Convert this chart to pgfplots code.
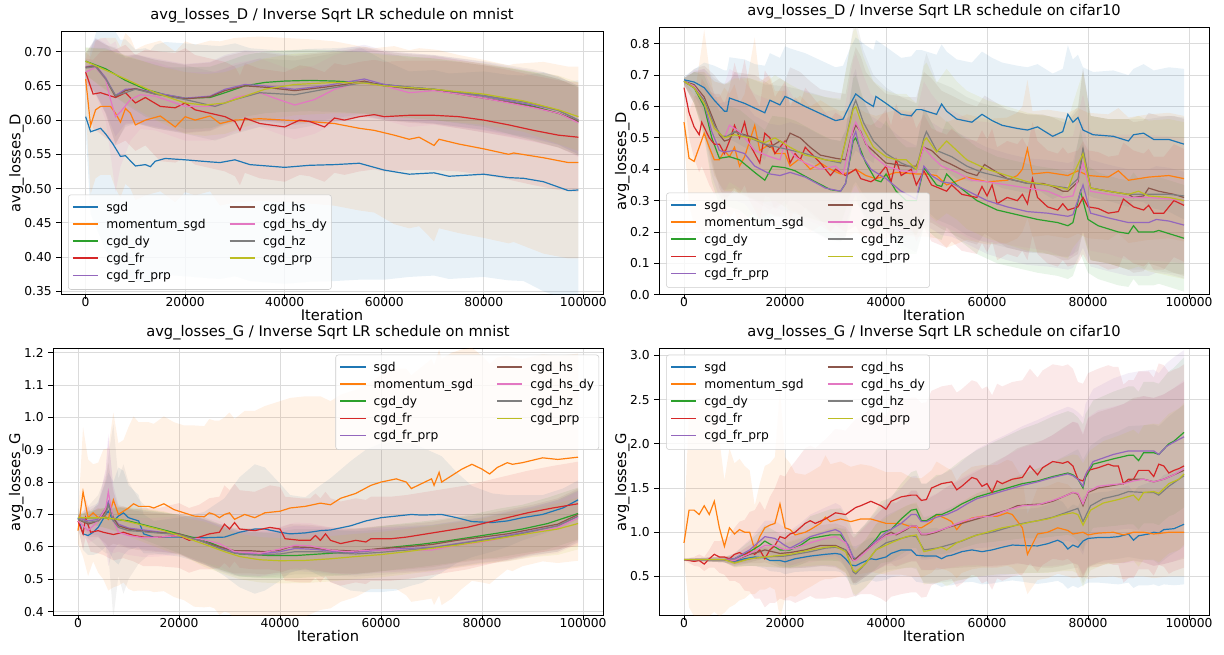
\documentclass[border=0pt]{standalone}
\usepackage{fontspec}
\setmainfont{DejaVu Sans}
\usepackage{pgfplots}
\usepackage{pgfplotstable}
\pgfplotsset{compat=1.18}
\usepgfplotslibrary{fillbetween}

\definecolor{csgd}{HTML}{1F77B4}
\definecolor{cmom}{HTML}{FF7F0E}
\definecolor{cdy}{HTML}{2CA02C}
\definecolor{cfr}{HTML}{D62728}
\definecolor{cfrprp}{HTML}{9467BD}
\definecolor{chs}{HTML}{8C564B}
\definecolor{chsdy}{HTML}{E377C2}
\definecolor{chz}{HTML}{7F7F7F}
\definecolor{cprp}{HTML}{BCBD22}

% columns: iteration, mean, std  (A = mnist D, B = cifar10 D, C = mnist G, D = cifar10 G)
% ---------- A: avg_losses_D, mnist ----------
\pgfplotstableread{
x m s
0 0.605 0.02
1000 0.583 0.12
3000 0.588 0.16
4000 0.580 0.17
5500 0.565 0.17
7000 0.547 0.17
8000 0.548 0.17
10000 0.533 0.17
12000 0.535 0.17
13000 0.532 0.17
14000 0.540 0.17
16000 0.544 0.17
20000 0.542 0.17
25000 0.539 0.17
27000 0.538 0.17
30000 0.542 0.17
33000 0.535 0.17
40000 0.531 0.17
45000 0.534 0.17
50000 0.535 0.17
55000 0.537 0.17
60000 0.527 0.16
65000 0.521 0.15
70000 0.523 0.15
73000 0.518 0.15
80000 0.521 0.15
85000 0.516 0.15
88000 0.515 0.15
92000 0.510 0.16
97000 0.497 0.16
99000 0.498 0.16
}\tAa
\pgfplotstableread{
x m s
0 0.660 0.04
1000 0.592 0.10
2000 0.615 0.10
3000 0.620 0.10
5000 0.620 0.10
6000 0.610 0.11
7000 0.597 0.11
8000 0.617 0.11
9000 0.610 0.11
10000 0.593 0.11
12000 0.600 0.11
15000 0.606 0.11
18000 0.590 0.11
20000 0.605 0.11
22000 0.600 0.11
25000 0.606 0.11
27000 0.595 0.12
30000 0.600 0.12
35000 0.602 0.12
40000 0.600 0.12
45000 0.598 0.12
50000 0.595 0.12
55000 0.588 0.12
58000 0.585 0.12
62000 0.578 0.13
65000 0.572 0.13
67000 0.575 0.13
70000 0.563 0.14
71000 0.572 0.13
75000 0.565 0.13
80000 0.558 0.13
85000 0.550 0.13
86000 0.552 0.13
92000 0.545 0.14
97000 0.538 0.14
99000 0.538 0.14
}\tAb
\pgfplotstableread{
x m s
0 0.686 0.02
4000 0.675 0.03
8000 0.658 0.035
12000 0.645 0.04
16000 0.637 0.04
20000 0.632 0.045
25000 0.633 0.045
28000 0.640 0.045
32000 0.650 0.045
36000 0.655 0.045
40000 0.657 0.045
45000 0.658 0.045
50000 0.657 0.045
55000 0.655 0.045
60000 0.652 0.045
65000 0.648 0.045
70000 0.645 0.045
75000 0.640 0.045
80000 0.635 0.045
85000 0.628 0.048
90000 0.620 0.05
95000 0.610 0.05
99000 0.598 0.05
}\tAc
\pgfplotstableread{
x m s
0 0.670 0.02
1500 0.638 0.05
3000 0.640 0.06
6000 0.633 0.07
8000 0.640 0.07
10000 0.625 0.07
12000 0.633 0.07
15000 0.620 0.08
18000 0.618 0.08
20000 0.625 0.08
22000 0.615 0.08
25000 0.610 0.08
28000 0.605 0.08
30000 0.598 0.08
31000 0.585 0.08
32000 0.603 0.08
35000 0.595 0.08
40000 0.590 0.08
43000 0.600 0.08
45000 0.598 0.08
48000 0.590 0.08
50000 0.603 0.08
52000 0.600 0.08
55000 0.605 0.08
58000 0.608 0.08
60000 0.605 0.08
65000 0.607 0.08
70000 0.607 0.08
75000 0.605 0.08
80000 0.600 0.08
85000 0.593 0.08
90000 0.585 0.08
95000 0.578 0.08
99000 0.575 0.08
}\tAd
\pgfplotstableread{
x m s
0 0.678 0.02
2000 0.680 0.04
4000 0.662 0.05
6000 0.636 0.06
8000 0.645 0.05
10000 0.646 0.05
14000 0.640 0.05
20000 0.632 0.05
25000 0.635 0.05
28000 0.645 0.05
32000 0.652 0.05
36000 0.650 0.05
42000 0.645 0.05
48000 0.650 0.05
52000 0.655 0.05
56000 0.660 0.05
60000 0.652 0.05
65000 0.648 0.05
70000 0.645 0.05
75000 0.640 0.05
80000 0.635 0.05
85000 0.628 0.05
90000 0.622 0.05
95000 0.614 0.05
99000 0.600 0.05
}\tAe
\pgfplotstableread{
x m s
0 0.677 0.02
2000 0.679 0.04
4000 0.660 0.05
6000 0.634 0.07
8000 0.643 0.05
10000 0.646 0.05
14000 0.638 0.05
20000 0.631 0.05
25000 0.634 0.05
28000 0.643 0.05
32000 0.650 0.05
36000 0.648 0.05
42000 0.643 0.05
48000 0.648 0.05
52000 0.652 0.05
56000 0.657 0.05
60000 0.650 0.05
65000 0.646 0.05
70000 0.644 0.05
75000 0.638 0.05
80000 0.632 0.05
85000 0.626 0.05
90000 0.619 0.05
95000 0.610 0.05
99000 0.598 0.05
}\tAf
\pgfplotstableread{
x m s
0 0.670 0.02
2000 0.677 0.04
4000 0.660 0.06
5000 0.630 0.08
6000 0.605 0.11
7000 0.612 0.08
9000 0.630 0.06
11000 0.637 0.05
14000 0.635 0.05
18000 0.625 0.05
20000 0.620 0.05
25000 0.620 0.05
28000 0.625 0.05
30000 0.633 0.05
35000 0.640 0.05
38000 0.632 0.05
42000 0.622 0.05
46000 0.630 0.05
50000 0.645 0.05
55000 0.655 0.05
60000 0.650 0.05
65000 0.640 0.05
70000 0.643 0.05
75000 0.638 0.05
80000 0.632 0.05
85000 0.625 0.05
90000 0.618 0.05
95000 0.610 0.05
99000 0.596 0.05
}\tAg
\pgfplotstableread{
x m s
0 0.676 0.02
2000 0.678 0.04
4000 0.660 0.05
6000 0.636 0.07
8000 0.640 0.05
10000 0.645 0.05
14000 0.638 0.05
20000 0.630 0.05
26000 0.620 0.05
30000 0.630 0.05
35000 0.640 0.05
42000 0.637 0.05
48000 0.645 0.05
52000 0.650 0.05
56000 0.655 0.05
60000 0.650 0.05
70000 0.645 0.05
80000 0.636 0.05
90000 0.624 0.05
95000 0.614 0.05
99000 0.600 0.05
}\tAh
\pgfplotstableread{
x m s
0 0.686 0.02
4000 0.673 0.03
8000 0.660 0.035
14000 0.640 0.04
20000 0.625 0.045
24000 0.622 0.045
28000 0.625 0.045
32000 0.635 0.045
36000 0.645 0.045
42000 0.652 0.045
50000 0.655 0.045
56000 0.654 0.045
60000 0.650 0.045
70000 0.645 0.045
80000 0.638 0.045
88000 0.628 0.045
95000 0.615 0.05
99000 0.605 0.05
}\tAi

% ---------- B: avg_losses_D, cifar10 ----------
\pgfplotstableread{
x m s
0 0.685 0.01
2000 0.678 0.04
4000 0.660 0.08
6000 0.620 0.11
8000 0.585 0.13
8500 0.585 0.13
9000 0.627 0.13
12000 0.610 0.14
14000 0.595 0.14
16000 0.580 0.15
17000 0.620 0.15
19000 0.605 0.15
20000 0.632 0.16
21000 0.625 0.16
24000 0.600 0.17
28000 0.570 0.17
30000 0.555 0.17
31500 0.560 0.17
33000 0.610 0.18
34000 0.640 0.18
36000 0.615 0.18
37500 0.600 0.18
38000 0.632 0.18
40000 0.610 0.18
43000 0.575 0.18
45000 0.570 0.19
46000 0.590 0.19
47000 0.590 0.19
49000 0.580 0.19
50000 0.575 0.19
51000 0.608 0.19
52000 0.585 0.19
54000 0.560 0.19
57000 0.550 0.19
59000 0.575 0.20
61000 0.555 0.20
63000 0.540 0.20
66000 0.530 0.20
68000 0.525 0.20
70000 0.535 0.20
73000 0.505 0.20
75000 0.520 0.20
76000 0.575 0.22
77000 0.550 0.20
78000 0.565 0.20
79000 0.525 0.20
81000 0.510 0.20
85000 0.505 0.21
88000 0.490 0.21
89000 0.510 0.21
91000 0.515 0.22
93000 0.495 0.22
96000 0.495 0.23
99000 0.480 0.24
}\tBa
\pgfplotstableread{
x m s
0 0.550 0.05
1000 0.435 0.15
2000 0.425 0.20
4000 0.515 0.33
5000 0.470 0.25
6000 0.430 0.20
7000 0.430 0.20
8000 0.460 0.20
9000 0.440 0.20
10000 0.470 0.20
11000 0.410 0.20
12000 0.440 0.20
14000 0.540 0.28
15000 0.460 0.22
17000 0.480 0.22
18000 0.450 0.20
20000 0.450 0.20
21000 0.410 0.20
23000 0.435 0.20
25000 0.400 0.20
27000 0.420 0.20
29000 0.400 0.20
31000 0.385 0.20
33000 0.390 0.20
34000 0.400 0.20
36000 0.380 0.20
38000 0.370 0.20
40000 0.380 0.20
42000 0.390 0.20
46000 0.385 0.20
48000 0.385 0.20
50000 0.380 0.20
52000 0.350 0.20
56000 0.375 0.20
60000 0.360 0.20
64000 0.365 0.20
66000 0.380 0.20
67000 0.400 0.20
68000 0.465 0.22
69000 0.385 0.20
72000 0.390 0.20
76000 0.380 0.20
78000 0.395 0.20
80000 0.380 0.20
84000 0.375 0.20
86000 0.395 0.20
88000 0.365 0.20
92000 0.375 0.20
96000 0.380 0.20
99000 0.370 0.20
}\tBb
\pgfplotstableread{
x m s
0 0.680 0.01
2000 0.660 0.05
4000 0.600 0.10
5500 0.500 0.14
7000 0.435 0.15
9000 0.440 0.16
11000 0.430 0.16
14000 0.390 0.16
16000 0.365 0.16
17500 0.410 0.16
20000 0.405 0.16
22000 0.395 0.16
26000 0.360 0.16
29000 0.335 0.16
31000 0.330 0.16
32000 0.355 0.17
33500 0.490 0.20
34000 0.500 0.20
36000 0.420 0.18
38000 0.365 0.17
39000 0.360 0.17
40000 0.385 0.17
42000 0.330 0.17
44000 0.300 0.17
46000 0.300 0.17
47500 0.405 0.19
50000 0.350 0.17
51000 0.345 0.17
52000 0.385 0.17
54000 0.350 0.17
58000 0.300 0.17
62000 0.270 0.17
66000 0.255 0.17
70000 0.240 0.17
74000 0.230 0.17
76000 0.220 0.17
77000 0.230 0.17
78500 0.330 0.20
80000 0.240 0.17
82000 0.220 0.17
86000 0.200 0.17
88000 0.195 0.17
89000 0.220 0.17
90000 0.200 0.17
93000 0.200 0.17
94000 0.205 0.17
96000 0.195 0.17
99000 0.180 0.17
}\tBc
\pgfplotstableread{
x m s
0 0.660 0.02
1000 0.580 0.08
2000 0.535 0.10
3000 0.510 0.12
3500 0.550 0.14
5000 0.500 0.15
6000 0.480 0.16
7000 0.480 0.16
8000 0.450 0.16
9000 0.490 0.17
10000 0.540 0.20
11000 0.500 0.18
12000 0.550 0.20
13000 0.480 0.18
14000 0.450 0.18
15000 0.420 0.18
16000 0.515 0.20
17000 0.500 0.19
18000 0.450 0.18
20000 0.490 0.19
21000 0.420 0.18
22000 0.450 0.18
23000 0.430 0.18
24000 0.470 0.19
27000 0.420 0.18
29000 0.380 0.18
30000 0.400 0.18
32000 0.380 0.18
33000 0.390 0.18
34000 0.400 0.18
35000 0.370 0.18
37000 0.360 0.18
38000 0.370 0.18
40000 0.410 0.18
41000 0.360 0.18
42000 0.430 0.18
43000 0.380 0.18
45000 0.400 0.18
46000 0.350 0.18
47500 0.395 0.18
49000 0.350 0.18
52000 0.330 0.18
53000 0.350 0.18
55000 0.320 0.18
58000 0.310 0.18
59000 0.345 0.18
60000 0.315 0.18
61000 0.350 0.18
62000 0.290 0.18
64000 0.310 0.18
66000 0.300 0.18
67000 0.320 0.18
68000 0.290 0.18
69000 0.370 0.18
70000 0.310 0.18
72000 0.280 0.18
74000 0.270 0.18
75000 0.290 0.18
76000 0.270 0.18
78000 0.280 0.18
79000 0.310 0.18
80000 0.280 0.18
82000 0.275 0.18
84000 0.260 0.18
86000 0.265 0.18
87000 0.305 0.18
89000 0.280 0.18
91000 0.270 0.18
92000 0.285 0.18
93000 0.260 0.18
95000 0.260 0.18
97000 0.300 0.18
99000 0.285 0.18
}\tBd
\pgfplotstableread{
x m s
0 0.680 0.01
2000 0.660 0.05
4000 0.610 0.10
5500 0.520 0.14
7000 0.460 0.15
8000 0.455 0.16
10000 0.460 0.16
12000 0.450 0.16
14000 0.410 0.16
17000 0.385 0.16
19000 0.380 0.16
21000 0.390 0.16
24000 0.375 0.16
28000 0.340 0.16
31000 0.330 0.16
32000 0.355 0.17
33500 0.500 0.20
34000 0.520 0.20
35000 0.450 0.19
37000 0.400 0.17
40000 0.370 0.17
43000 0.330 0.17
46000 0.305 0.17
47500 0.410 0.19
49000 0.380 0.17
51000 0.360 0.17
53000 0.355 0.17
55000 0.340 0.17
60000 0.300 0.17
64000 0.280 0.17
68000 0.265 0.17
72000 0.260 0.17
76000 0.250 0.17
77000 0.255 0.17
79000 0.350 0.20
80500 0.260 0.17
84000 0.245 0.17
88000 0.230 0.17
92000 0.230 0.17
93500 0.240 0.17
96000 0.235 0.17
99000 0.222 0.17
}\tBe
\pgfplotstableread{
x m s
0 0.680 0.01
2000 0.670 0.05
4000 0.630 0.10
6000 0.550 0.15
7000 0.510 0.17
8000 0.490 0.18
9000 0.495 0.18
10000 0.520 0.19
14000 0.500 0.20
17000 0.470 0.20
19000 0.490 0.20
20000 0.480 0.20
21000 0.515 0.21
23000 0.500 0.21
25000 0.470 0.21
27000 0.445 0.21
30000 0.435 0.21
32000 0.430 0.21
33000 0.500 0.23
34000 0.540 0.25
35000 0.520 0.24
36000 0.480 0.23
38000 0.450 0.22
40000 0.420 0.22
42000 0.415 0.22
44000 0.410 0.22
46000 0.410 0.22
47500 0.470 0.24
49000 0.460 0.23
51000 0.430 0.22
53000 0.415 0.22
56000 0.390 0.22
58000 0.380 0.22
59500 0.415 0.22
61000 0.400 0.22
64000 0.370 0.22
68000 0.355 0.22
71000 0.355 0.22
73000 0.345 0.22
75000 0.330 0.22
76000 0.330 0.22
78000 0.360 0.23
79000 0.460 0.26
80500 0.340 0.23
84000 0.330 0.23
88000 0.320 0.24
89000 0.310 0.24
91000 0.315 0.24
92000 0.340 0.24
94000 0.330 0.24
97000 0.320 0.25
99000 0.310 0.25
}\tBf
\pgfplotstableread{
x m s
0 0.680 0.01
2000 0.665 0.05
4000 0.620 0.10
6000 0.530 0.15
8000 0.500 0.17
9000 0.540 0.18
11000 0.520 0.18
14000 0.460 0.18
17000 0.440 0.18
19000 0.430 0.18
20000 0.485 0.19
22000 0.440 0.18
24000 0.420 0.18
27000 0.400 0.18
30000 0.410 0.18
31500 0.385 0.18
33500 0.530 0.22
34000 0.550 0.22
35500 0.500 0.20
37000 0.450 0.19
40000 0.410 0.19
43000 0.395 0.19
46000 0.390 0.19
47500 0.470 0.21
49000 0.440 0.20
51000 0.410 0.19
54000 0.390 0.19
57000 0.365 0.19
60000 0.360 0.19
64000 0.350 0.19
68000 0.340 0.19
70000 0.335 0.19
72000 0.330 0.19
75000 0.310 0.19
77000 0.315 0.19
79000 0.420 0.22
80500 0.330 0.19
84000 0.320 0.19
88000 0.310 0.20
92000 0.310 0.20
96000 0.305 0.20
99000 0.300 0.20
}\tBg
\pgfplotstableread{
x m s
0 0.680 0.01
2000 0.660 0.05
4000 0.620 0.10
6000 0.540 0.15
7500 0.505 0.17
8500 0.505 0.17
10000 0.520 0.18
13000 0.500 0.19
16000 0.480 0.19
20000 0.465 0.20
24000 0.450 0.20
28000 0.430 0.20
31000 0.420 0.20
33500 0.600 0.25
34000 0.620 0.26
35500 0.550 0.23
37500 0.490 0.21
40000 0.450 0.21
43000 0.420 0.21
46000 0.400 0.21
47500 0.500 0.24
48000 0.520 0.25
50000 0.460 0.22
53000 0.440 0.22
56000 0.410 0.22
59000 0.390 0.22
64000 0.370 0.22
68000 0.355 0.22
72000 0.350 0.22
76000 0.340 0.22
78000 0.370 0.23
79000 0.465 0.26
80500 0.340 0.23
84000 0.330 0.23
88000 0.320 0.24
92000 0.320 0.24
96000 0.320 0.25
99000 0.315 0.25
}\tBh
\pgfplotstableread{
x m s
0 0.680 0.01
2000 0.660 0.05
4000 0.610 0.10
6000 0.530 0.15
8000 0.500 0.17
10000 0.510 0.18
13000 0.500 0.19
16000 0.485 0.19
18000 0.500 0.20
21000 0.470 0.20
24000 0.445 0.20
28000 0.430 0.20
31000 0.425 0.20
33500 0.590 0.25
34000 0.600 0.25
35500 0.530 0.23
37500 0.470 0.21
40000 0.440 0.21
42000 0.430 0.21
44000 0.430 0.21
46000 0.400 0.21
47500 0.490 0.24
48000 0.500 0.24
50000 0.455 0.22
52000 0.490 0.23
54000 0.460 0.22
56000 0.430 0.22
60000 0.400 0.22
64000 0.380 0.22
68000 0.360 0.22
72000 0.350 0.22
75000 0.340 0.22
76000 0.335 0.22
77000 0.380 0.23
79000 0.450 0.26
80500 0.340 0.23
84000 0.330 0.23
88000 0.320 0.24
90000 0.330 0.24
92000 0.315 0.24
96000 0.310 0.25
99000 0.300 0.25
}\tBi

% ---------- C: avg_losses_G, mnist ----------
\pgfplotstableread{
x m s
0 0.690 0.03
1000 0.640 0.05
2000 0.635 0.06
3000 0.645 0.07
4000 0.660 0.08
5500 0.700 0.10
6000 0.710 0.12
7000 0.680 0.12
8000 0.695 0.15
9000 0.705 0.13
10000 0.690 0.10
12000 0.680 0.08
13000 0.640 0.06
15000 0.630 0.05
20000 0.630 0.06
25000 0.628 0.08
29000 0.630 0.12
32000 0.645 0.17
35000 0.655 0.20
37000 0.655 0.19
40000 0.645 0.15
42000 0.640 0.12
45000 0.643 0.11
48000 0.650 0.14
50000 0.652 0.16
54000 0.665 0.20
57000 0.680 0.22
60000 0.690 0.23
63000 0.695 0.23
66000 0.700 0.22
68000 0.698 0.21
72000 0.700 0.18
75000 0.690 0.14
78000 0.678 0.11
82000 0.675 0.09
85000 0.680 0.08
88000 0.690 0.07
92000 0.700 0.06
96000 0.720 0.06
99000 0.745 0.06
}\tCa
\pgfplotstableread{
x m s
0 0.650 0.04
1000 0.770 0.20
2000 0.690 0.18
3000 0.705 0.15
4000 0.690 0.17
5000 0.700 0.20
6000 0.685 0.22
7000 0.745 0.27
8000 0.700 0.22
9000 0.710 0.22
10000 0.720 0.25
11000 0.733 0.27
12000 0.725 0.26
14000 0.725 0.26
15000 0.720 0.26
17000 0.733 0.27
19000 0.715 0.27
21000 0.705 0.27
23000 0.695 0.28
25000 0.693 0.28
26000 0.705 0.29
27000 0.700 0.29
28000 0.690 0.30
29000 0.700 0.30
30000 0.705 0.31
31000 0.685 0.31
33000 0.700 0.32
35000 0.690 0.33
37000 0.705 0.33
40000 0.710 0.34
42000 0.720 0.34
45000 0.725 0.34
48000 0.735 0.33
50000 0.730 0.32
52000 0.750 0.32
55000 0.765 0.32
58000 0.790 0.32
60000 0.800 0.33
63000 0.810 0.34
65000 0.800 0.35
66000 0.780 0.35
68000 0.795 0.36
70000 0.810 0.37
70500 0.790 0.37
71500 0.830 0.38
72000 0.800 0.38
74000 0.820 0.38
76000 0.840 0.37
78000 0.855 0.36
80000 0.840 0.35
81500 0.825 0.34
83000 0.845 0.34
85000 0.860 0.33
86000 0.855 0.33
88000 0.860 0.32
92000 0.875 0.32
95000 0.870 0.32
99000 0.877 0.32
}\tCb
\pgfplotstableread{
x m s
0 0.690 0.01
5000 0.690 0.03
10000 0.680 0.04
15000 0.660 0.05
20000 0.640 0.06
25000 0.620 0.07
29000 0.595 0.07
32000 0.578 0.07
38000 0.573 0.07
43000 0.573 0.07
48000 0.578 0.07
53000 0.583 0.07
58000 0.590 0.07
63000 0.600 0.07
68000 0.608 0.07
73000 0.618 0.07
78000 0.630 0.07
83000 0.642 0.075
88000 0.655 0.075
93000 0.672 0.08
99000 0.703 0.08
}\tCc
\pgfplotstableread{
x m s
0 0.680 0.02
1000 0.640 0.05
1500 0.690 0.06
2500 0.645 0.06
4000 0.650 0.07
5000 0.645 0.07
7000 0.638 0.08
9000 0.645 0.08
11000 0.635 0.08
13000 0.630 0.09
16000 0.630 0.09
20000 0.635 0.10
22000 0.620 0.10
24000 0.630 0.10
26000 0.640 0.11
28000 0.645 0.11
29000 0.670 0.12
30000 0.655 0.12
31000 0.675 0.12
32000 0.655 0.12
35000 0.650 0.12
38000 0.660 0.13
40000 0.655 0.13
41000 0.625 0.13
44000 0.620 0.13
46000 0.620 0.13
47000 0.635 0.13
48000 0.620 0.13
49000 0.640 0.13
50000 0.620 0.13
52000 0.610 0.13
55000 0.620 0.13
57000 0.615 0.13
58000 0.625 0.13
62000 0.625 0.13
65000 0.630 0.13
69000 0.640 0.13
73000 0.650 0.13
77000 0.660 0.13
81000 0.675 0.13
85000 0.690 0.13
89000 0.705 0.13
94000 0.720 0.13
99000 0.733 0.13
}\tCd
\pgfplotstableread{
x m s
0 0.690 0.01
2000 0.680 0.04
4000 0.685 0.05
5500 0.720 0.12
6000 0.740 0.20
7000 0.690 0.10
8000 0.670 0.06
10000 0.658 0.06
15000 0.648 0.06
20000 0.638 0.06
25000 0.615 0.07
29000 0.592 0.07
32000 0.580 0.07
36000 0.578 0.07
40000 0.585 0.07
43000 0.595 0.07
47000 0.592 0.07
51000 0.585 0.07
55000 0.583 0.07
60000 0.590 0.07
65000 0.595 0.07
70000 0.598 0.07
75000 0.610 0.07
80000 0.622 0.07
85000 0.635 0.075
90000 0.650 0.075
95000 0.665 0.08
99000 0.693 0.08
}\tCe
\pgfplotstableread{
x m s
0 0.685 0.01
2000 0.670 0.04
4000 0.680 0.05
5500 0.710 0.10
6000 0.730 0.13
7000 0.690 0.08
8000 0.665 0.06
10000 0.655 0.06
12000 0.650 0.06
15000 0.645 0.06
20000 0.640 0.06
24000 0.620 0.07
28000 0.600 0.07
31000 0.588 0.07
34000 0.588 0.07
37000 0.585 0.07
40000 0.590 0.07
42000 0.600 0.07
46000 0.598 0.07
50000 0.590 0.07
55000 0.587 0.07
60000 0.595 0.07
65000 0.600 0.07
70000 0.607 0.07
75000 0.620 0.07
80000 0.630 0.07
85000 0.640 0.075
90000 0.655 0.075
95000 0.670 0.08
99000 0.700 0.08
}\tCf
\pgfplotstableread{
x m s
0 0.680 0.01
2000 0.650 0.04
4000 0.680 0.05
5500 0.720 0.12
6000 0.770 0.18
7000 0.680 0.10
8000 0.645 0.06
10000 0.635 0.06
13000 0.628 0.06
16000 0.630 0.06
20000 0.635 0.06
22000 0.625 0.06
24000 0.625 0.07
28000 0.610 0.07
31000 0.585 0.07
36000 0.580 0.07
40000 0.593 0.07
43000 0.605 0.07
46000 0.603 0.07
50000 0.590 0.07
53000 0.585 0.07
58000 0.590 0.07
65000 0.590 0.07
70000 0.590 0.07
75000 0.605 0.07
80000 0.615 0.07
85000 0.630 0.075
90000 0.645 0.075
95000 0.660 0.08
99000 0.690 0.08
}\tCg
\pgfplotstableread{
x m s
0 0.685 0.01
2000 0.675 0.05
4000 0.680 0.08
5500 0.700 0.12
6000 0.730 0.15
7000 0.680 0.30
8000 0.660 0.15
9000 0.655 0.20
10000 0.650 0.15
12000 0.648 0.10
14000 0.645 0.07
20000 0.638 0.06
24000 0.620 0.07
28000 0.595 0.07
31000 0.580 0.07
35000 0.575 0.07
40000 0.578 0.07
43000 0.585 0.07
48000 0.585 0.07
52000 0.580 0.07
55000 0.578 0.07
60000 0.583 0.07
65000 0.590 0.07
70000 0.597 0.07
75000 0.608 0.07
80000 0.620 0.07
85000 0.632 0.075
90000 0.648 0.075
95000 0.665 0.08
99000 0.695 0.08
}\tCh
\pgfplotstableread{
x m s
0 0.690 0.01
5000 0.690 0.03
8000 0.685 0.04
12000 0.670 0.05
17000 0.650 0.06
21000 0.630 0.06
25000 0.608 0.07
29000 0.585 0.07
32000 0.570 0.07
36000 0.560 0.07
40000 0.557 0.07
45000 0.558 0.07
50000 0.563 0.07
55000 0.570 0.07
60000 0.576 0.07
65000 0.585 0.07
70000 0.595 0.07
75000 0.605 0.07
80000 0.617 0.07
85000 0.630 0.075
90000 0.643 0.075
95000 0.655 0.08
99000 0.672 0.08
}\tCi

% ---------- D: avg_losses_G, cifar10 ----------
\pgfplotstableread{
x m s
0 0.690 0.01
8000 0.690 0.03
10000 0.670 0.06
12000 0.700 0.08
14000 0.720 0.10
16000 0.710 0.12
17000 0.680 0.12
19000 0.680 0.13
20000 0.665 0.14
22000 0.700 0.15
25000 0.730 0.17
28000 0.750 0.19
30000 0.760 0.20
31000 0.750 0.20
32000 0.700 0.20
33000 0.630 0.22
34000 0.620 0.22
35000 0.650 0.22
37000 0.700 0.24
38000 0.690 0.25
40000 0.720 0.26
41000 0.760 0.27
43000 0.800 0.29
45000 0.800 0.30
46000 0.740 0.30
48000 0.730 0.31
50000 0.730 0.32
51000 0.700 0.32
52000 0.730 0.33
53000 0.740 0.34
55000 0.780 0.35
57000 0.800 0.36
59000 0.780 0.37
61000 0.800 0.38
63000 0.830 0.39
65000 0.855 0.40
67000 0.850 0.41
70000 0.845 0.43
72000 0.870 0.44
74000 0.910 0.46
75000 0.880 0.46
76000 0.810 0.45
77000 0.855 0.46
78000 0.830 0.46
79000 0.900 0.50
80000 0.930 0.50
82000 0.940 0.51
84000 0.940 0.52
86000 0.950 0.54
88000 0.980 0.55
89000 0.910 0.54
90000 0.960 0.56
92000 0.980 0.58
93000 1.000 0.59
94000 0.990 0.60
95000 1.030 0.62
97000 1.040 0.64
99000 1.090 0.68
}\tDa
\pgfplotstableread{
x m s
0 0.880 0.20
1000 1.250 1.10
2000 1.250 1.20
3000 1.200 1.15
4000 1.300 1.25
5000 1.200 1.15
6000 1.350 1.25
7000 1.050 1.00
8000 0.840 0.75
9000 1.050 0.90
10000 0.980 0.80
11000 1.030 0.80
12000 1.000 0.75
13000 1.000 0.70
14000 0.800 0.50
15000 0.950 0.60
16000 1.050 0.70
17000 1.080 0.70
18000 1.100 0.75
19000 1.320 1.30
20000 1.050 0.80
21000 1.030 0.75
22000 0.970 0.70
24000 1.000 0.65
25000 1.030 0.65
27000 1.100 0.65
28000 1.170 0.70
29000 1.120 0.65
31000 1.150 0.65
33000 1.120 0.62
35000 1.150 0.62
37000 1.150 0.60
40000 1.100 0.58
43000 1.100 0.58
45000 1.060 0.56
47000 1.050 0.56
49000 1.120 0.58
50000 1.200 0.60
52000 1.150 0.58
53000 1.120 0.58
54000 1.030 0.55
55000 1.100 0.56
57000 1.160 0.58
59000 1.180 0.58
62000 1.180 0.58
64000 1.220 0.60
65000 1.200 0.60
67000 1.050 0.56
68000 0.750 0.45
70000 0.980 0.52
72000 1.000 0.52
74000 1.050 0.52
76000 1.020 0.52
77000 0.980 0.50
79000 1.000 0.50
80000 0.970 0.50
82000 0.990 0.50
85000 1.000 0.50
87000 0.970 0.50
89000 1.000 0.50
91000 1.000 0.50
93000 0.980 0.50
96000 1.000 0.50
99000 1.000 0.50
}\tDb
\pgfplotstableread{
x m s
0 0.690 0.01
8000 0.690 0.03
10000 0.700 0.06
13000 0.780 0.12
15000 0.850 0.16
16000 0.900 0.18
17500 0.850 0.18
19000 0.800 0.18
21000 0.800 0.20
23000 0.850 0.22
25000 0.930 0.25
27000 0.950 0.27
29000 0.970 0.29
31000 0.970 0.30
32500 0.850 0.30
33500 0.700 0.28
34000 0.700 0.28
36000 0.800 0.30
38000 0.920 0.33
39000 1.000 0.35
41000 1.030 0.36
43000 1.150 0.40
45000 1.250 0.43
46000 1.260 0.44
47000 1.130 0.42
48000 1.130 0.42
50000 1.200 0.45
51000 1.200 0.45
53000 1.250 0.48
55000 1.320 0.50
58000 1.400 0.53
61000 1.450 0.56
64000 1.500 0.59
67000 1.550 0.62
70000 1.580 0.65
73000 1.630 0.68
76000 1.670 0.70
77000 1.650 0.70
78000 1.600 0.70
79000 1.500 0.72
79500 1.620 0.72
81000 1.770 0.72
83000 1.800 0.74
85000 1.830 0.76
88000 1.870 0.78
89000 1.870 0.78
90000 1.810 0.78
91000 1.900 0.80
93000 1.900 0.80
94000 1.880 0.80
96000 2.000 0.82
97000 2.030 0.83
99000 2.130 0.85
}\tDc
\pgfplotstableread{
x m s
0 0.690 0.01
2000 0.670 0.05
3000 0.680 0.07
4000 0.640 0.08
5000 0.700 0.10
6000 0.750 0.15
7000 0.720 0.18
8000 0.720 0.20
9000 0.700 0.25
10000 0.750 0.30
11000 0.770 0.35
12000 0.740 0.40
13000 0.780 0.45
14000 0.750 0.50
15000 0.800 0.55
16000 0.700 0.55
17000 0.800 0.60
18000 0.850 0.65
19000 0.950 0.70
20000 0.930 0.70
21000 0.980 0.75
22000 1.000 0.80
24000 1.100 0.85
25000 1.130 0.85
26000 1.100 0.85
28000 1.150 0.90
30000 1.220 0.95
32000 1.200 0.95
34000 1.280 1.00
35000 1.300 1.00
37000 1.350 1.05
39000 1.300 1.05
40000 1.260 1.05
41000 1.350 1.08
43000 1.400 1.10
45000 1.420 1.10
46000 1.420 1.10
47000 1.360 1.10
48000 1.370 1.10
49000 1.500 1.10
51000 1.550 1.10
53000 1.570 1.10
54000 1.480 1.10
55000 1.520 1.10
57000 1.620 1.10
58000 1.600 1.10
59000 1.520 1.10
60000 1.550 1.10
61000 1.450 1.10
62000 1.580 1.10
63000 1.550 1.10
65000 1.600 1.10
67000 1.620 1.10
68500 1.750 1.10
70000 1.650 1.10
71000 1.730 1.10
73000 1.800 1.10
75000 1.780 1.10
76000 1.800 1.10
77000 1.750 1.10
78000 1.600 1.10
79000 1.580 1.10
80000 1.700 1.10
82000 1.730 1.12
84000 1.770 1.12
85000 1.750 1.12
86000 1.750 1.12
87000 1.550 1.12
88000 1.600 1.12
89000 1.600 1.12
90000 1.700 1.12
92000 1.700 1.12
93000 1.630 1.12
94000 1.770 1.14
95000 1.750 1.14
96000 1.670 1.14
97000 1.700 1.14
98000 1.720 1.14
99000 1.750 1.15
}\tDd
\pgfplotstableread{
x m s
0 0.690 0.01
8000 0.690 0.03
10000 0.700 0.06
13000 0.800 0.12
15000 0.900 0.16
16000 0.950 0.18
18000 0.930 0.20
20000 0.850 0.20
21000 0.820 0.20
23000 0.880 0.22
25000 0.950 0.25
28000 1.000 0.28
30000 1.030 0.30
31000 1.000 0.30
32500 0.850 0.30
33500 0.720 0.28
34000 0.700 0.28
36000 0.800 0.30
38000 0.900 0.33
40000 1.000 0.36
43000 1.100 0.40
45000 1.200 0.43
46000 1.200 0.44
47000 1.120 0.43
48000 1.120 0.43
50000 1.170 0.46
52000 1.200 0.48
54000 1.250 0.50
56000 1.320 0.53
58000 1.380 0.56
61000 1.430 0.60
64000 1.480 0.63
67000 1.530 0.67
70000 1.570 0.70
73000 1.620 0.73
76000 1.660 0.76
77000 1.640 0.76
78000 1.600 0.76
79000 1.520 0.78
79500 1.650 0.80
81000 1.800 0.82
83000 1.840 0.84
85000 1.880 0.86
88000 1.920 0.88
90000 1.920 0.90
93000 1.920 0.92
94000 1.880 0.92
95500 1.970 0.94
97000 2.020 0.96
99000 2.080 0.98
}\tDe
\pgfplotstableread{
x m s
0 0.690 0.01
8000 0.690 0.03
10000 0.680 0.06
13000 0.750 0.10
15000 0.780 0.13
16000 0.800 0.14
19000 0.760 0.16
21000 0.770 0.18
24000 0.800 0.20
27000 0.850 0.23
30000 0.850 0.25
32000 0.800 0.26
33500 0.680 0.26
34000 0.700 0.26
36000 0.800 0.28
38000 0.880 0.31
40000 0.970 0.34
41000 1.000 0.35
42000 0.970 0.36
44000 1.030 0.38
45000 1.070 0.40
46000 1.070 0.40
47000 0.970 0.40
48000 0.970 0.40
50000 1.000 0.43
52000 1.050 0.46
55000 1.100 0.50
58000 1.150 0.54
61000 1.200 0.58
64000 1.250 0.62
66000 1.300 0.65
68000 1.310 0.68
71000 1.320 0.72
73000 1.350 0.75
75000 1.400 0.78
77000 1.450 0.80
78000 1.430 0.80
79000 1.300 0.80
80000 1.450 0.84
82000 1.500 0.86
85000 1.530 0.88
87000 1.550 0.90
89000 1.600 0.92
91000 1.600 0.94
93000 1.570 0.95
95000 1.600 0.96
97000 1.650 0.98
99000 1.700 1.00
}\tDf
\pgfplotstableread{
x m s
0 0.690 0.01
8000 0.690 0.03
10000 0.680 0.06
13000 0.760 0.10
15000 0.820 0.13
16000 0.850 0.14
18000 0.850 0.16
20000 0.800 0.18
22000 0.820 0.19
25000 0.880 0.22
28000 0.930 0.24
30000 0.950 0.25
32000 0.880 0.26
33500 0.680 0.26
34000 0.680 0.26
36000 0.780 0.28
38000 0.880 0.31
40000 0.960 0.34
42000 0.980 0.36
44000 1.040 0.38
45000 1.070 0.40
46000 1.070 0.40
47000 0.980 0.40
48000 0.980 0.41
50000 1.010 0.43
52000 1.050 0.46
55000 1.120 0.50
58000 1.170 0.54
61000 1.180 0.58
64000 1.250 0.62
67000 1.300 0.66
70000 1.310 0.70
73000 1.360 0.74
75000 1.400 0.77
77000 1.450 0.80
78000 1.440 0.80
79000 1.320 0.80
80000 1.460 0.84
82000 1.520 0.86
85000 1.540 0.88
87000 1.550 0.90
89000 1.580 0.92
91000 1.600 0.94
93000 1.570 0.95
95000 1.600 0.96
97000 1.650 0.98
99000 1.720 1.00
}\tDg
\pgfplotstableread{
x m s
0 0.690 0.01
8000 0.690 0.03
10000 0.660 0.05
13000 0.700 0.08
16000 0.720 0.11
20000 0.730 0.14
25000 0.780 0.18
28000 0.820 0.20
30000 0.830 0.22
32000 0.800 0.24
33500 0.550 0.26
34000 0.530 0.26
36000 0.650 0.27
38000 0.800 0.29
40000 0.880 0.31
43000 0.930 0.34
45000 0.960 0.36
46000 0.950 0.37
47500 0.800 0.37
50000 0.820 0.39
52000 0.850 0.41
55000 0.900 0.44
58000 0.970 0.47
61000 1.000 0.50
64000 1.050 0.53
67000 1.100 0.56
70000 1.130 0.59
73000 1.170 0.62
76000 1.230 0.65
78000 1.270 0.67
79000 1.120 0.70
80500 1.300 0.68
83000 1.380 0.70
86000 1.420 0.72
88000 1.460 0.74
91000 1.450 0.76
93000 1.450 0.77
94000 1.420 0.78
96000 1.520 0.79
98000 1.600 0.80
99000 1.640 0.80
}\tDh
\pgfplotstableread{
x m s
0 0.690 0.01
8000 0.690 0.03
10000 0.650 0.05
13000 0.700 0.08
16000 0.720 0.11
21000 0.750 0.15
25000 0.800 0.18
28000 0.830 0.20
30000 0.840 0.22
32000 0.780 0.24
33500 0.570 0.26
34000 0.550 0.26
36000 0.650 0.27
38000 0.800 0.29
41000 0.880 0.32
44000 0.950 0.35
46000 0.970 0.37
47500 0.780 0.37
49000 0.800 0.38
51000 0.830 0.40
52000 0.800 0.41
54000 0.880 0.43
57000 0.950 0.46
60000 1.000 0.49
63000 1.050 0.52
66000 1.080 0.55
69000 1.120 0.58
72000 1.150 0.61
75000 1.200 0.64
77000 1.220 0.66
78000 1.200 0.67
79000 1.080 0.70
80500 1.250 0.68
83000 1.330 0.70
86000 1.370 0.72
89000 1.420 0.74
90000 1.360 0.75
91000 1.450 0.76
93000 1.460 0.77
94000 1.440 0.78
96000 1.550 0.79
98000 1.600 0.80
99000 1.660 0.80
}\tDi

% mean +/- std band
\newcommand{\band}[3]{%
  \addplot[draw=none, forget plot, name path=u#3] table[x=x, y expr=\thisrow{m}+\thisrow{s}] {#1};
  \addplot[draw=none, forget plot, name path=l#3] table[x=x, y expr=\thisrow{m}-\thisrow{s}] {#1};
  \addplot[fill=#2, fill opacity=0.1, draw=none, forget plot] fill between[of=u#3 and l#3];
}
\newcommand{\mean}[2]{\addplot[color=#2, line width=0.9pt, mark=none, forget plot] table[x=x, y=m] {#1};}
\newcommand{\panel}[9]{%
  \band{#1}{csgd}{a}\band{#2}{cmom}{b}\band{#3}{cdy}{c}
  \band{#4}{cfr}{d}\band{#5}{cfrprp}{e}\band{#6}{chs}{f}
  \band{#7}{chsdy}{g}\band{#8}{chz}{h}\band{#9}{cprp}{i}
  \mean{#1}{csgd}\mean{#2}{cmom}\mean{#3}{cdy}
  \mean{#4}{cfr}\mean{#5}{cfrprp}\mean{#6}{chs}
  \mean{#7}{chsdy}\mean{#8}{chz}\mean{#9}{cprp}
}

% legend box: coloured rules and names, two columns as in the reference
\newcommand{\lgitem}[2]{\textcolor{#1}{\rule[0.3em]{19pt}{1.1pt}}&#2}
\newcommand{\legendbox}{%
  \begin{tabular}{@{}l@{\hspace{6pt}}l@{\hspace{18pt}}l@{\hspace{6pt}}l@{}}
  \lgitem{csgd}{sgd} & \lgitem{chs}{cgd\_hs}\\
  \lgitem{cmom}{momentum\_sgd} & \lgitem{chsdy}{cgd\_hs\_dy}\\
  \lgitem{cdy}{cgd\_dy} & \lgitem{chz}{cgd\_hz}\\
  \lgitem{cfr}{cgd\_fr} & \lgitem{cprp}{cgd\_prp}\\
  \lgitem{cfrprp}{cgd\_fr\_prp} \\
  \end{tabular}}
\tikzset{legendnode/.style={draw=black!20, fill=white, fill opacity=0.8,
  draw opacity=1, text opacity=1, rounded corners=2pt, inner sep=3.5pt,
  font=\fontsize{9.2}{12.8}\selectfont}}

\pgfplotsset{
  panel/.style={
    scale only axis,
    xmin=-4950, xmax=103950,
    xtick={0,20000,40000,60000,80000,100000},
    scaled ticks=false,
    /pgf/number format/assume math mode=true,
    tick label style={font=\fontsize{9.2}{11}\selectfont, text=black},
    xticklabel style={yshift=4.75pt, /pgf/number format/.cd, fixed, 1000 sep={}},
    yticklabel style={/pgf/number format/.cd, fixed, fixed zerofill, precision=1},
    label style={font=\fontsize{11}{13}\selectfont},
    title style={font=\fontsize{11}{13}\selectfont, yshift=-3pt},
    xlabel={Iteration},
    xlabel style={yshift=5pt},
    ylabel style={yshift=-6.5pt},
    tick align=outside,
    xtick pos=left, ytick pos=left,
    major tick length=3.5pt,
    tick style={black, line width=0.6pt},
    axis line style={black, line width=0.7pt},
    grid=major,
    major grid style={black!14, line width=0.6pt},
  }
}

\begin{document}
\begin{tikzpicture}

\begin{axis}[panel,
  at={(45.75pt,270pt)}, anchor=south west,
  width=406.5pt, height=197.25pt,
  ymin=0.345, ymax=0.729,
  ytick={0.35,0.40,0.45,0.50,0.55,0.60,0.65,0.70},
  yticklabel style={/pgf/number format/.cd, fixed, fixed zerofill, precision=2},
  ylabel={avg\_losses\_D},
  title={avg\_losses\_D / Inverse Sqrt LR schedule on mnist}
]
\panel{\tAa}{\tAb}{\tAc}{\tAd}{\tAe}{\tAf}{\tAg}{\tAh}{\tAi}
\node[legendnode, anchor=south west] at (rel axis cs:0.013,0.019) {\legendbox};
\end{axis}

\begin{axis}[panel,
  at={(494.25pt,270pt)}, anchor=south west,
  width=412.5pt, height=200.25pt,
  ymin=0, ymax=0.851,
  ytick={0,0.1,0.2,0.3,0.4,0.5,0.6,0.7,0.8},
  ylabel={avg\_losses\_D},
  title={avg\_losses\_D / Inverse Sqrt LR schedule on cifar10}
]
\panel{\tBa}{\tBb}{\tBc}{\tBd}{\tBe}{\tBf}{\tBg}{\tBh}{\tBi}
\node[legendnode, anchor=south west] at (rel axis cs:0.013,0.026) {\legendbox};
\end{axis}

\begin{axis}[panel,
  at={(39.75pt,29.25pt)}, anchor=south west,
  width=412.5pt, height=200.25pt,
  ymin=0.387, ymax=1.212,
  ytick={0.4,0.5,0.6,0.7,0.8,0.9,1.0,1.1,1.2},
  ylabel={avg\_losses\_G},
  title={avg\_losses\_G / Inverse Sqrt LR schedule on mnist}
]
\panel{\tCa}{\tCb}{\tCc}{\tCd}{\tCe}{\tCf}{\tCg}{\tCh}{\tCi}
\node[legendnode, anchor=north east] at (rel axis cs:0.993,0.978) {\legendbox};
\end{axis}

\begin{axis}[panel,
  at={(494.25pt,29.25pt)}, anchor=south west,
  width=412.5pt, height=200.25pt,
  ymin=0.055, ymax=3.076,
  ytick={0.5,1.0,1.5,2.0,2.5,3.0},
  ylabel={avg\_losses\_G},
  title={avg\_losses\_G / Inverse Sqrt LR schedule on cifar10}
]
\panel{\tDa}{\tDb}{\tDc}{\tDd}{\tDe}{\tDf}{\tDg}{\tDh}{\tDi}
\node[legendnode, anchor=north west] at (rel axis cs:0.013,0.978) {\legendbox};
\end{axis}

\path (0pt,0pt) rectangle (918pt,484.5pt);
\end{tikzpicture}
\end{document}
